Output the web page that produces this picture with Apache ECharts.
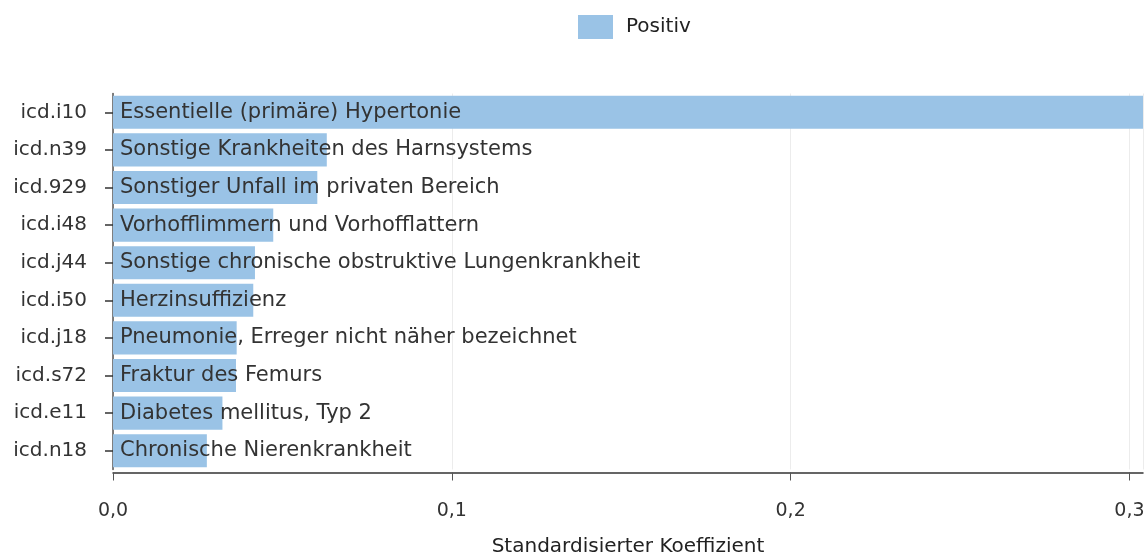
<!DOCTYPE html>
<html>
<head>
<meta charset="utf-8">
<script src="https://cdn.jsdelivr.net/npm/echarts@6/dist/echarts.min.js"></script>
<style>
  html, body { margin: 0; padding: 0; background: #fff; }
  #chart { width: 1146px; height: 557px; }
</style>
</head>
<body>
<div id="chart"></div>
<script>
// ICD codes, top to bottom
const codes = ['icd.i10', 'icd.n39', 'icd.929', 'icd.i48', 'icd.j44', 'icd.i50', 'icd.j18', 'icd.s72', 'icd.e11', 'icd.n18'];
// Diagnosis names printed on the bars
const names = [
  'Essentielle (primäre) Hypertonie',
  'Sonstige Krankheiten des Harnsystems',
  'Sonstiger Unfall im privaten Bereich',
  'Vorhofflimmern und Vorhofflattern',
  'Sonstige chronische obstruktive Lungenkrankheit',
  'Herzinsuffizienz',
  'Pneumonie, Erreger nicht näher bezeichnet',
  'Fraktur des Femurs',
  'Diabetes mellitus, Typ 2',
  'Chronische Nierenkrankheit'
];
// Standardised coefficients (positive)
const coefficients = [0.304, 0.0631, 0.0603, 0.0473, 0.0419, 0.0414, 0.0365, 0.0363, 0.0323, 0.0277];
const xTicks = [0, 0.1, 0.2, 0.3];

const FONT = 'DejaVu Sans';
const chart = echarts.init(document.getElementById('chart'));

chart.setOption({
  animation: false,
  textStyle: { fontFamily: FONT },
  legend: {
    data: ['Positiv'],
    left: 573,
    top: 10,
    itemWidth: 35,
    itemHeight: 24,
    icon: 'rect',
    textStyle: { fontSize: 20, color: '#222', fontFamily: FONT, padding: [0, 0, 0, 8] }
  },
  grid: { left: 113, right: 3, top: 93.5, bottom: 87.5, containLabel: false, outerBoundsMode: 'none' },
  xAxis: {
    type: 'value',
    min: 0,
    max: 0.304,
    interval: 0.1,
    offset: 3,
    name: 'Standardisierter Koeffizient',
    nameLocation: 'middle',
    nameGap: 64,
    nameTextStyle: { fontSize: 20, color: '#222', fontFamily: FONT },
    axisLine: { show: true, lineStyle: { color: '#333', width: 1.5 } },
    axisTick: { show: true, length: 8, lineStyle: { color: '#555' } },
    axisLabel: {
      margin: 29,
      fontSize: 19,
      color: '#333',
      fontFamily: FONT,
      showMaxLabel: false,
      formatter: v => xTicks.some(t => Math.abs(t - v) < 1e-9) ? v.toFixed(1).replace('.', ',') : ''
    },
    splitLine: { show: true, lineStyle: { color: '#ececec' } }
  },
  yAxis: {
    type: 'category',
    inverse: true,
    data: codes,
    axisLine: { show: true, lineStyle: { color: '#555', width: 1.5 } },
    axisTick: { show: true, length: 8, alignWithLabel: true, lineStyle: { color: '#333', width: 1.5 } },
    axisLabel: { margin: 26, fontSize: 20, color: '#333', fontFamily: FONT },
    splitLine: { show: false }
  },
  series: [{
    name: 'Positiv',
    type: 'bar',
    data: coefficients,
    barCategoryGap: '12%',
    itemStyle: { color: '#9ac3e6' },
    label: {
      show: true,
      position: 'insideLeft',
      distance: 7,
      fontSize: 21,
      color: '#333',
      fontFamily: FONT,
      formatter: p => names[p.dataIndex]
    }
  }]
});
</script>
</body>
</html>
